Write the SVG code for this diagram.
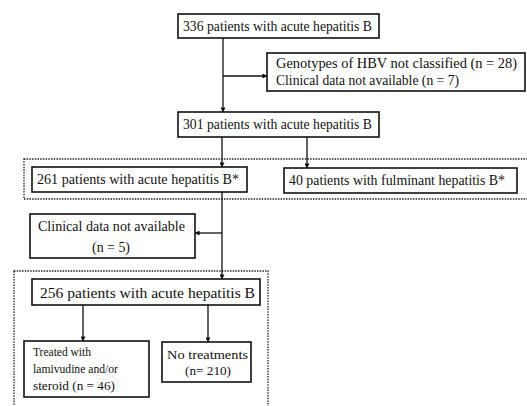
<svg xmlns="http://www.w3.org/2000/svg" width="527" height="406" viewBox="0 0 527 406">
<defs>
<style>
.box{fill:#fff;stroke:#111;stroke-width:1.6}
.dot{fill:none;stroke:#222;stroke-width:1.3;stroke-dasharray:1.5 1.2}
.ln{fill:none;stroke:#111;stroke-width:1.3}
text{font-family:"Liberation Serif","Times New Roman",serif;font-size:14px;fill:#111}
.s{font-size:13.5px}
</style>
<marker id="ah" viewBox="0 0 6 6" refX="5.5" refY="3" markerWidth="5" markerHeight="5" orient="auto" markerUnits="userSpaceOnUse">
<path d="M0,0 L6,3 L0,6 Z" fill="#111"/>
</marker>
</defs>
<rect width="527" height="406" fill="#fff"/>
<g id="groups">
<rect class="dot" x="24" y="159" width="510" height="40"/>
<rect class="dot" x="14" y="271" width="254" height="145"/>
</g>
<g id="connectors">
<path class="ln" d="M223,38 V112" marker-end="url(#ah)"/>
<path class="ln" d="M223,76 H267" marker-end="url(#ah)"/>
<path class="ln" d="M222,137 V167" marker-end="url(#ah)"/>
<path class="ln" d="M307,137 V168" marker-end="url(#ah)"/>
<path class="ln" d="M222,192 V279" marker-end="url(#ah)"/>
<path class="ln" d="M222,233 H195" marker-end="url(#ah)"/>
<path class="ln" d="M83,305 V341" marker-end="url(#ah)"/>
<path class="ln" d="M208,305 V342" marker-end="url(#ah)"/>
</g>
<g id="n336">
<rect class="box" x="178" y="14" width="201" height="24"/>
<text x="183" y="31" textLength="189" lengthAdjust="spacingAndGlyphs">336 patients with acute hepatitis B</text>
</g>
<g id="nExcl1">
<rect class="box" x="267" y="53" width="258" height="38"/>
<text x="276" y="68" textLength="241" lengthAdjust="spacingAndGlyphs">Genotypes of HBV not classified (n = 28)</text>
<text x="276" y="85" textLength="183" lengthAdjust="spacingAndGlyphs">Clinical data not available (n = 7)</text>
</g>
<g id="n301">
<rect class="box" x="178" y="112" width="201" height="25"/>
<text x="183" y="129" textLength="189" lengthAdjust="spacingAndGlyphs">301 patients with acute hepatitis B</text>
</g>
<g id="n261">
<rect class="box" x="32" y="167" width="215" height="25"/>
<text x="37" y="184" textLength="202" lengthAdjust="spacingAndGlyphs">261 patients with acute hepatitis B*</text>
</g>
<g id="n40">
<rect class="box" x="284" y="168" width="233" height="25"/>
<text x="289" y="185" textLength="216" lengthAdjust="spacingAndGlyphs">40 patients with fulminant hepatitis B*</text>
</g>
<g id="nExcl2">
<rect class="box" x="30" y="214" width="165" height="44"/>
<text x="38" y="231" textLength="147" lengthAdjust="spacingAndGlyphs">Clinical data not available</text>
<text x="92" y="252" textLength="38" lengthAdjust="spacingAndGlyphs">(n = 5)</text>
</g>
<g id="n256">
<rect class="box" x="32" y="279" width="228" height="26"/>
<text x="40" y="298" textLength="215" lengthAdjust="spacingAndGlyphs">256 patients with acute hepatitis B</text>
</g>
<g id="nTreated">
<rect class="box" x="24" y="341" width="125" height="56"/>
<text class="s" x="33" y="356" textLength="58" lengthAdjust="spacingAndGlyphs">Treated with</text>
<text class="s" x="33" y="373" textLength="85" lengthAdjust="spacingAndGlyphs">lamivudine and/or</text>
<text class="s" x="33" y="390" textLength="82" lengthAdjust="spacingAndGlyphs">steroid (n = 46)</text>
</g>
<g id="nNoTreat">
<rect class="box" x="162" y="342" width="89" height="40"/>
<text class="s" x="167" y="359" textLength="81" lengthAdjust="spacingAndGlyphs">No treatments</text>
<text class="s" x="185" y="375" textLength="46" lengthAdjust="spacingAndGlyphs">(n= 210)</text>
</g>
</svg>
